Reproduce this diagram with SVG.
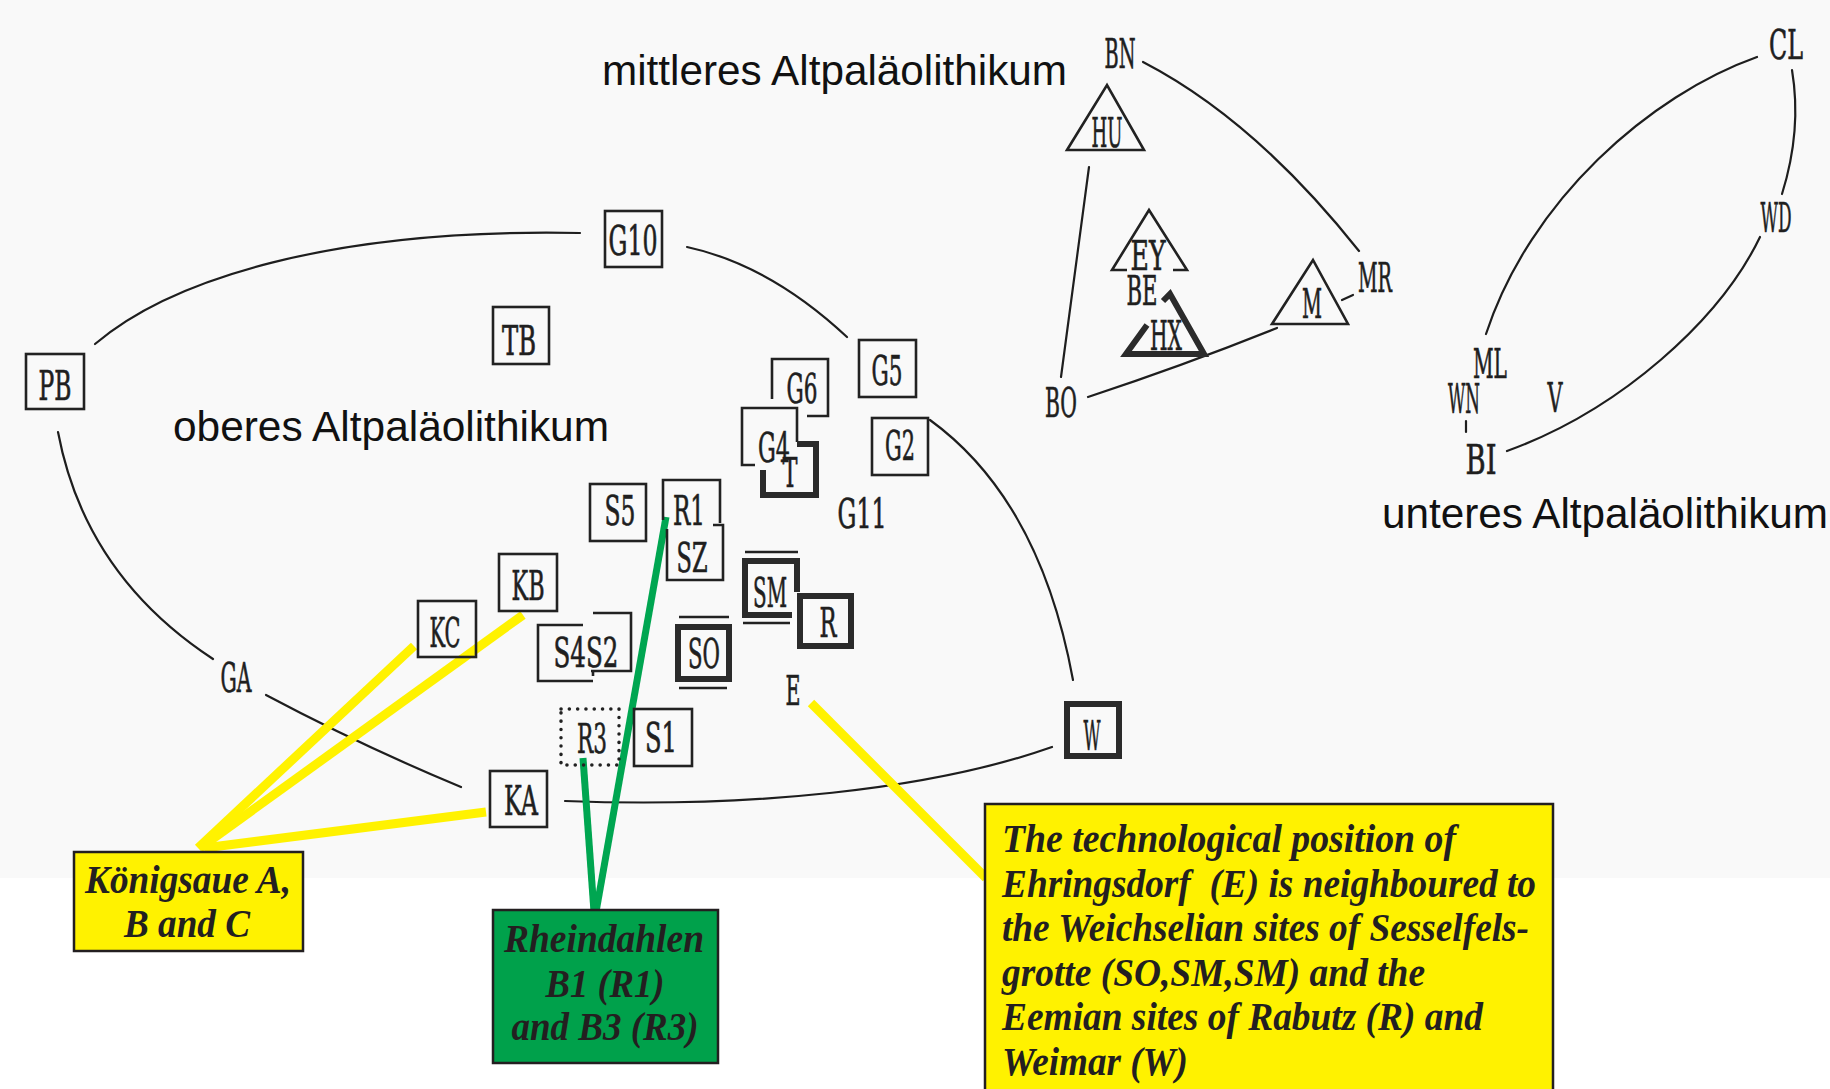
<svg xmlns="http://www.w3.org/2000/svg" width="1830" height="1089" viewBox="0 0 1830 1089">
<style>
.lbl{font-family:"DejaVu Serif","Liberation Serif",serif;font-size:41px;fill:#1f1f1f;stroke:#1f1f1f;stroke-width:0.7;text-anchor:middle;}
.box{fill:none;stroke:#222;stroke-width:2.6;}
.thick{fill:none;stroke:#2b2b2b;stroke-width:6;stroke-linejoin:miter;}
.arc{fill:none;stroke:#1e1e1e;stroke-width:2.2;stroke-linecap:round;}
.era{font-family:"Liberation Sans",Arial,sans-serif;font-size:42px;fill:#111;}
.call{font-family:"Liberation Serif","Times New Roman",serif;font-weight:bold;font-style:italic;font-size:41px;fill:#231f20;}
.yl{stroke:#fff200;stroke-width:9;fill:none;}
.gl{stroke:#00a651;stroke-width:7;fill:none;}
.cbox{stroke:#231f20;stroke-width:2.5;}
</style>
<rect x="0" y="0" width="1830" height="1089" fill="#ffffff"/>
<rect x="0" y="0" width="1830" height="878" fill="#f9f9f9"/>

<g id="era-labels">
<text class="era" x="602" y="85" textLength="465" lengthAdjust="spacingAndGlyphs">mittleres Altpaläolithikum</text>
<text class="era" x="173" y="441" textLength="436" lengthAdjust="spacingAndGlyphs">oberes Altpaläolithikum</text>
<text class="era" x="1382" y="528" textLength="446" lengthAdjust="spacingAndGlyphs">unteres Altpaläolithikum</text>
</g>

<g id="connectors">
<path class="arc" d="M95,344 C170,280 330,228 580,233"/>
<path class="arc" d="M687,247 Q770,265 847,337"/>
<path class="arc" d="M930,420 Q1040,500 1073,680"/>
<path class="arc" d="M58,432 Q85,575 213,659"/>
<path class="arc" d="M266,695 Q360,745 461,787"/>
<path class="arc" d="M565,801 C750,808 930,790 1052,747"/>
<path class="arc" d="M1143,62 Q1255,120 1359,251"/>
<path class="arc" d="M1089,167 Q1075,270 1061,377"/>
<path class="arc" d="M1088,397 Q1185,365 1277,328"/>
<path class="arc" d="M1342,300 L1353,295"/>
<path class="arc" d="M1757,57 C1650,95 1530,200 1486,334"/>
<path class="arc" d="M1792,70 Q1802,130 1782,194"/>
<path class="arc" d="M1760,237 C1720,320 1620,410 1507,451"/>
<path class="arc" d="M1466,421 L1466,432"/>
<line class="yl" x1="198" y1="848" x2="414" y2="646"/>
<line class="yl" x1="200" y1="848" x2="523" y2="615"/>
<line class="yl" x1="204" y1="848" x2="486" y2="812"/>
<line class="yl" x1="811" y1="703" x2="986" y2="878"/>
<line class="gl" x1="666" y1="517" x2="596" y2="912"/>
<line class="gl" x1="583" y1="758" x2="594" y2="912"/>
</g>

<g id="node-PB"><rect class="box" x="26" y="354" width="58" height="55"/><text class="lbl" x="55" y="400" textLength="33" lengthAdjust="spacingAndGlyphs">PB</text></g>
<g id="node-TB"><rect class="box" x="493" y="307" width="56" height="57"/><text class="lbl" x="519" y="355" textLength="34" lengthAdjust="spacingAndGlyphs">TB</text></g>
<g id="node-G10"><rect class="box" x="605" y="211" width="57" height="56"/><text class="lbl" x="633" y="255" textLength="49" lengthAdjust="spacingAndGlyphs">G10</text></g>
<g id="node-G6"><path class="box" d="M772,399 V359 H828 V416 H807"/><text class="lbl" x="802" y="403" textLength="31" lengthAdjust="spacingAndGlyphs">G6</text></g>
<g id="node-G5"><rect class="box" x="859" y="340" width="57" height="57"/><text class="lbl" x="887" y="385" textLength="31" lengthAdjust="spacingAndGlyphs">G5</text></g>
<g id="node-G4"><path class="box" d="M797,442 V408 H742 V465 H755"/><text class="lbl" x="774" y="462" textLength="32" lengthAdjust="spacingAndGlyphs">G4</text></g>
<g id="node-T"><path class="thick" d="M763,470 V495 H816 V444 H797"/><text class="lbl" x="790" y="487" textLength="15" lengthAdjust="spacingAndGlyphs">T</text></g>
<g id="node-G2"><rect class="box" x="872" y="418" width="56" height="57"/><text class="lbl" x="900" y="460" textLength="30" lengthAdjust="spacingAndGlyphs">G2</text></g>
<g id="node-G11"><text class="lbl" x="862" y="528" textLength="49" lengthAdjust="spacingAndGlyphs">G11</text></g>
<g id="node-S5"><rect class="box" x="590" y="484" width="56" height="57"/><text class="lbl" x="620" y="525" textLength="31" lengthAdjust="spacingAndGlyphs">S5</text></g>
<g id="node-R1"><path class="box" d="M663,520 V480 H720 V523"/><text class="lbl" x="689" y="525" textLength="32" lengthAdjust="spacingAndGlyphs">R1</text></g>
<g id="node-SZ"><path class="box" d="M713,525 H723 V580 H667 V529"/><text class="lbl" x="692" y="572" textLength="31" lengthAdjust="spacingAndGlyphs">SZ</text></g>
<g id="node-KB"><rect class="box" x="499" y="554" width="58" height="57"/><text class="lbl" x="528" y="600" textLength="33" lengthAdjust="spacingAndGlyphs">KB</text></g>
<g id="node-KC"><rect class="box" x="418" y="601" width="58" height="56"/><text class="lbl" x="445" y="647" textLength="31" lengthAdjust="spacingAndGlyphs">KC</text></g>
<g id="node-S4S2"><path class="box" d="M583,625 H538 V681 H593 M593,613 H631 V671 H591"/><path class="box" d="M593,670 V676"/><text class="lbl" x="586" y="667" textLength="65" lengthAdjust="spacingAndGlyphs">S4S2</text></g>
<g id="node-SM"><path class="thick" d="M792,615 H745 V561 H797 V592"/><path class="box" d="M745,552 H798 M743,623 H790" stroke-width="3"/><text class="lbl" x="770" y="607" textLength="34" lengthAdjust="spacingAndGlyphs">SM</text></g>
<g id="node-R"><rect class="thick" x="800" y="596" width="51" height="50"/><text class="lbl" x="828" y="637" textLength="17" lengthAdjust="spacingAndGlyphs">R</text></g>
<g id="node-SO"><rect class="thick" x="678" y="627" width="51" height="52"/><path class="box" d="M679,617 H729 M679,688 H727" stroke-width="3"/><text class="lbl" x="704" y="668" textLength="32" lengthAdjust="spacingAndGlyphs">SO</text></g>
<g id="node-E"><text class="lbl" x="793" y="705" textLength="15" lengthAdjust="spacingAndGlyphs">E</text></g>
<g id="node-W"><rect class="thick" x="1067" y="704" width="52" height="52" stroke-width="5"/><text class="lbl" x="1092" y="750" textLength="17" lengthAdjust="spacingAndGlyphs">W</text></g>
<g id="node-GA"><text class="lbl" x="236" y="692" textLength="31" lengthAdjust="spacingAndGlyphs">GA</text></g>
<g id="node-R3"><rect x="561" y="709" width="58" height="56" fill="none" stroke="#222" stroke-width="3.5" stroke-linecap="round" stroke-dasharray="0.1 8.2"/><text class="lbl" x="592" y="753" textLength="30" lengthAdjust="spacingAndGlyphs">R3</text></g>
<g id="node-S1"><rect class="box" x="634" y="709" width="58" height="57"/><text class="lbl" x="661" y="752" textLength="32" lengthAdjust="spacingAndGlyphs">S1</text></g>
<g id="node-KA"><rect class="box" x="490" y="771" width="57" height="56"/><text class="lbl" x="521" y="815" textLength="34" lengthAdjust="spacingAndGlyphs">KA</text></g>

<g id="node-BN"><text class="lbl" x="1120" y="68" textLength="31" lengthAdjust="spacingAndGlyphs">BN</text></g>
<g id="node-HU"><path class="box" d="M1067,150 L1107,85 L1144,150 Z"/><text class="lbl" x="1107" y="147" textLength="31" lengthAdjust="spacingAndGlyphs">HU</text></g>
<g id="node-EY"><path class="box" d="M1127,270 H1112 L1149,210 L1187,270 H1173"/><text class="lbl" x="1148" y="270" textLength="35" lengthAdjust="spacingAndGlyphs">EY</text></g>
<g id="node-BE"><text class="lbl" x="1142" y="305" textLength="31" lengthAdjust="spacingAndGlyphs">BE</text></g>
<g id="node-HX"><path class="thick" d="M1147,325 L1126,354 H1204 L1170,294 L1163,301"/><text class="lbl" x="1166" y="350" textLength="32" lengthAdjust="spacingAndGlyphs">HX</text></g>
<g id="node-M"><path class="box" d="M1272,324 L1313,260 L1348,324 Z"/><text class="lbl" x="1312" y="318" textLength="20" lengthAdjust="spacingAndGlyphs">M</text></g>
<g id="node-MR"><text class="lbl" x="1375" y="292" textLength="34" lengthAdjust="spacingAndGlyphs">MR</text></g>
<g id="node-BO"><text class="lbl" x="1061" y="417" textLength="32" lengthAdjust="spacingAndGlyphs">BO</text></g>

<g id="node-CL"><text class="lbl" x="1786" y="59" textLength="34" lengthAdjust="spacingAndGlyphs">CL</text></g>
<g id="node-WD"><text class="lbl" x="1776" y="232" textLength="31" lengthAdjust="spacingAndGlyphs">WD</text></g>
<g id="node-ML"><text class="lbl" x="1490" y="378" textLength="34" lengthAdjust="spacingAndGlyphs">ML</text></g>
<g id="node-WN"><text class="lbl" x="1464" y="413" textLength="32" lengthAdjust="spacingAndGlyphs">WN</text></g>
<g id="node-V"><text class="lbl" x="1555" y="412" textLength="15" lengthAdjust="spacingAndGlyphs">V</text></g>
<g id="node-BI"><text class="lbl" x="1481" y="474" textLength="31" lengthAdjust="spacingAndGlyphs">BI</text></g>

<g id="callout-koenigsaue">
<rect class="cbox" x="74" y="852" width="229" height="99" fill="#fff200"/>
<text class="call" x="188" y="893" text-anchor="middle" textLength="206" lengthAdjust="spacingAndGlyphs">Königsaue A,</text>
<text class="call" x="187" y="937" text-anchor="middle" textLength="126" lengthAdjust="spacingAndGlyphs">B and C</text>
</g>
<g id="callout-rheindahlen">
<rect class="cbox" x="493" y="910" width="225" height="153" fill="#00a14b"/>
<text class="call" x="604" y="952" text-anchor="middle" textLength="200" lengthAdjust="spacingAndGlyphs">Rheindahlen</text>
<text class="call" x="605" y="997" text-anchor="middle" textLength="119" lengthAdjust="spacingAndGlyphs">B1 (R1)</text>
<text class="call" x="605" y="1040" text-anchor="middle" textLength="187" lengthAdjust="spacingAndGlyphs">and B3 (R3)</text>
</g>
<g id="callout-ehringsdorf">
<rect class="cbox" x="985" y="804" width="568" height="300" fill="#fff200"/>
<text class="call" x="1002" y="852" textLength="454" lengthAdjust="spacingAndGlyphs">The technological position of</text>
<text class="call" x="1002" y="897" textLength="534" lengthAdjust="spacingAndGlyphs" style="white-space:pre">Ehringsdorf  (E) is neighboured to</text>
<text class="call" x="1002" y="941" textLength="527" lengthAdjust="spacingAndGlyphs">the Weichselian sites of Sesselfels-</text>
<text class="call" x="1002" y="986" textLength="423" lengthAdjust="spacingAndGlyphs">grotte (SO,SM,SM) and the</text>
<text class="call" x="1002" y="1030" textLength="481" lengthAdjust="spacingAndGlyphs">Eemian sites of Rabutz (R) and</text>
<text class="call" x="1002" y="1075" textLength="186" lengthAdjust="spacingAndGlyphs">Weimar (W)</text>
</g>
</svg>
